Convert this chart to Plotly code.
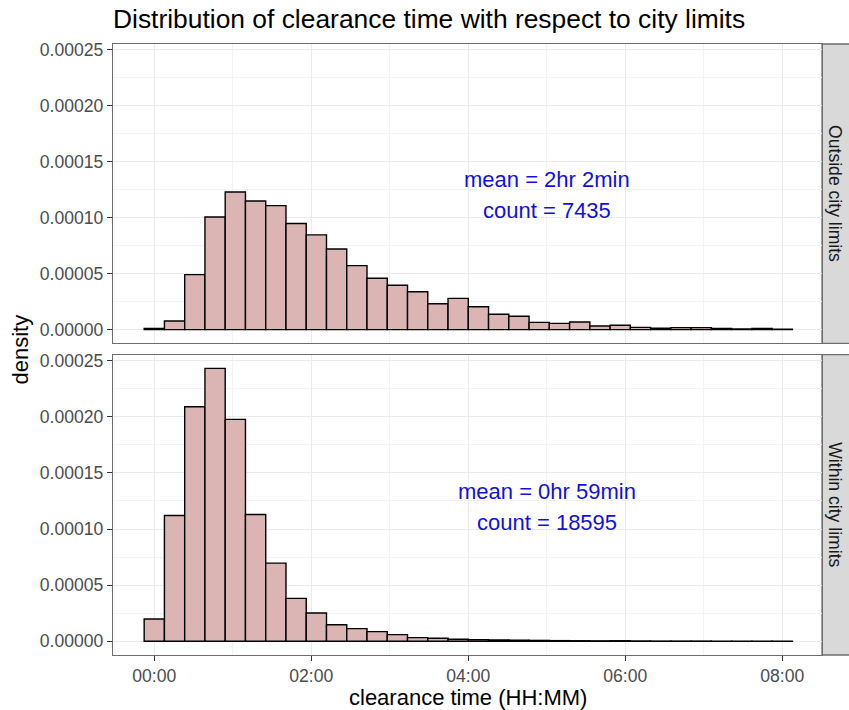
import plotly.graph_objects as go

# ---------------- data ----------------
bin_width_sec = 28800 / 31          # histogram bin width (seconds)
n_bins = 32

outside_density = [0.0000010, 0.0000077, 0.0000492, 0.0001007, 0.0001230, 0.0001150,
                   0.0001108, 0.0000948, 0.0000847, 0.0000720, 0.0000572, 0.0000459,
                   0.0000397, 0.0000338, 0.0000231, 0.0000279, 0.0000205, 0.0000137,
                   0.0000119, 0.0000065, 0.0000056, 0.0000068, 0.0000033, 0.0000039,
                   0.0000020, 0.0000012, 0.0000018, 0.0000018, 0.0000010, 0.0000006,
                   0.0000010, 0.0000003]

within_density = [0.0000199, 0.0001120, 0.0002089, 0.0002430, 0.0001976, 0.0001129,
                  0.0000696, 0.0000382, 0.0000252, 0.0000148, 0.0000113, 0.0000086,
                  0.0000059, 0.0000033, 0.0000027, 0.0000018, 0.0000015, 0.0000012,
                  0.0000010, 0.0000008, 0.0000006, 0.0000005, 0.0000004, 0.0000005,
                  0.0000003, 0.0000002, 0.0000002, 0.0000002, 0.0000001, 0.0000001,
                  0.0000001, 0.0000001]

facet_labels = ["Outside city limits", "Within city limits"]
mean_labels = ["mean = 2hr 2min", "mean = 0hr 59min"]
count_labels = ["count = 7435", "count = 18595"]

x_tick_vals = [0, 7200, 14400, 21600, 28800]
x_tick_text = ["00:00", "02:00", "04:00", "06:00", "08:00"]
x_minor_vals = [3600, 10800, 18000, 25200]
y_tick_vals = [0, 0.00005, 0.0001, 0.00015, 0.0002, 0.00025]
y_minor_vals = [0.000025, 0.000075, 0.000125, 0.000175, 0.000225]

label_x_sec = 18000
label_y = 0.00012

# ---------------- style ----------------
FONT = "Liberation Sans, Arial, sans-serif"
bar_fill = "#DBB4B4"
border_col = "#6e6e6e"
grid_major = "#EBEBEB"
grid_minor = "#F3F3F3"

bin_centers = [i * bin_width_sec for i in range(n_bins)]

W, H = 849, 710
ml, mr, mt, mb = 113, 27, 44, 55
pw = W - ml - mr
ph = H - mt - mb

top_domain = [(655 - 343.3) / ph, 1.0]
bot_domain = [0.0, (655 - 354.7) / ph]

fig = go.Figure()
for dens, xa, ya in [(outside_density, "x", "y"), (within_density, "x2", "y2")]:
    fig.add_trace(go.Bar(
        x=bin_centers, y=dens, width=bin_width_sec,
        marker=dict(color=bar_fill, line=dict(color="black", width=1.4)),
        xaxis=xa, yaxis=ya, showlegend=False, hoverinfo="x+y"))

x_range = [-1894, 30621]
y_range = [-0.0000122, 0.0002552]

common_x = dict(range=x_range, showgrid=True, gridcolor=grid_major, gridwidth=1.2,
                tickvals=x_tick_vals, ticktext=x_tick_text, zeroline=False,
                showline=True, mirror=True, linecolor=border_col, linewidth=1.3,
                minor=dict(tickvals=x_minor_vals, showgrid=True, gridcolor=grid_minor, gridwidth=1),
                tickfont=dict(family=FONT, size=17.6, color="#4D4D4D"))
common_y = dict(range=y_range, showgrid=True, gridcolor=grid_major, gridwidth=1.2,
                tickvals=y_tick_vals, tickformat=".5f", zeroline=False,
                showline=True, mirror=True, linecolor=border_col, linewidth=1.3,
                ticks="outside", ticklen=5, tickcolor="#333333", tickwidth=1.2,
                minor=dict(tickvals=y_minor_vals, showgrid=True, gridcolor=grid_minor, gridwidth=1),
                tickfont=dict(family=FONT, size=17.6, color="#4D4D4D"))

fig.update_layout(
    width=W, height=H,
    margin=dict(l=ml, r=mr, t=mt, b=mb),
    paper_bgcolor="white", plot_bgcolor="white",
    barmode="overlay",
    xaxis=dict(common_x, domain=[0, 1], anchor="y", showticklabels=False, ticks="",
               matches="x2"),
    yaxis=dict(common_y, domain=top_domain, anchor="x"),
    xaxis2=dict(common_x, domain=[0, 1], anchor="y2", ticks="outside", ticklen=5,
                tickcolor="#333333", tickwidth=1.2),
    yaxis2=dict(common_y, domain=bot_domain, anchor="x2"),
    title=dict(text="Distribution of clearance time with respect to city limits",
               x=113 / W, xanchor="left", xref="container",
               y=1 - 19 / H, yanchor="middle", yref="container",
               font=dict(family=FONT, size=26.4, color="black")),
    font=dict(family=FONT),
)

annotations = []
shapes = []
for i, (dom, xr, yr) in enumerate([(top_domain, "x", "y"), (bot_domain, "x2", "y2")]):
    # strip
    shapes.append(dict(type="rect", xref="paper", yref="paper",
                       x0=1.0, x1=1.05, y0=dom[0], y1=dom[1],
                       fillcolor="#D9D9D9", line=dict(color=border_col, width=1.3),
                       layer="below"))
    annotations.append(dict(text=facet_labels[i], xref="paper", yref="paper",
                            x=1 + 13.6 / pw, y=(dom[0] + dom[1]) / 2,
                            textangle=90, showarrow=False,
                            xanchor="center", yanchor="middle",
                            font=dict(family=FONT, size=17.6, color="#1A1A1A")))
    # in-panel labels
    annotations.append(dict(text=mean_labels[i], xref=xr, yref=yr,
                            x=label_x_sec, y=label_y, yshift=15.5, showarrow=False,
                            xanchor="center", yanchor="middle",
                            font=dict(family=FONT, size=22, color="#1010E0")))
    annotations.append(dict(text=count_labels[i], xref=xr, yref=yr,
                            x=label_x_sec, y=label_y, yshift=-15.5, showarrow=False,
                            xanchor="center", yanchor="middle",
                            font=dict(family=FONT, size=22, color="#1010E0")))

annotations.append(dict(text="density", xref="paper", yref="paper",
                        x=(20 - ml) / pw, y=(655 - 349.5) / ph, textangle=-90,
                        showarrow=False, xanchor="center", yanchor="middle",
                        font=dict(family=FONT, size=22, color="black")))
annotations.append(dict(text="clearance time (HH:MM)", xref="paper", yref="paper",
                        x=0.5, y=(655 - 697) / ph, showarrow=False,
                        xanchor="center", yanchor="middle",
                        font=dict(family=FONT, size=22, color="black")))

fig.update_layout(annotations=annotations, shapes=shapes)

fig.write_html("out.html")
